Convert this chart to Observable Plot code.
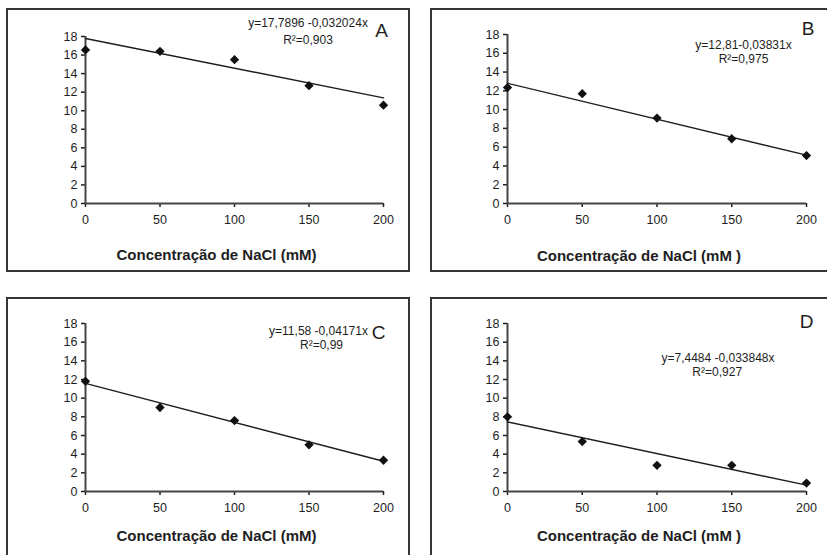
<!DOCTYPE html>
<html>
<head>
<meta charset="utf-8">
<script src="https://cdn.jsdelivr.net/npm/d3@7"></script>
<script src="https://cdn.jsdelivr.net/npm/@observablehq/plot@0.6"></script>
<style>
  html, body { margin: 0; padding: 0; background: #fff; }
  #root { position: relative; width: 827px; height: 555px; overflow: hidden; background: #fff; }
  .panel { position: absolute; }
  .panel svg { background: transparent !important; max-width: none !important; }
  .box { position: absolute; box-sizing: border-box; border: 2px solid #363636; pointer-events: none; }
</style>
</head>
<body>
<div id="root"></div>
<script>
// ---- data ----
const concentrations = [0, 50, 100, 150, 200];
const xTicks = [0, 50, 100, 150, 200];
const yTicks = [0, 2, 4, 6, 8, 10, 12, 14, 16, 18];
const valuesA = [16.55, 16.4, 15.5, 12.7, 10.6];
const valuesB = [12.35, 11.7, 9.1, 6.9, 5.1];
const valuesC = [11.8, 9.0, 7.6, 5.0, 3.35];
const valuesD = [8.0, 5.35, 2.8, 2.8, 0.9];
const intercepts = [17.7896, 12.81, 11.58, 7.4484];
const slopes = [-0.032024, -0.03831, -0.04171, -0.033848];
const equationLabels = ["y=17,7896 -0,032024x", "y=12,81-0,03831x", "y=11,58 -0,04171x", "y=7,4484 -0,033848x"];
const r2Labels = ["R\u00b2=0,903", "R\u00b2=0,975", "R\u00b2=0,99", "R\u00b2=0,927"];
const panelLetters = ["A", "B", "C", "D"];
const xAxisTitles = ["Concentração de NaCl (mM)", "Concentração de NaCl (mM )", "Concentração de NaCl (mM)", "Concentração de NaCl (mM )"];
const seriesValues = [valuesA, valuesB, valuesC, valuesD];

// ---- layout (positions/styles only) ----
const layout = [
  {left: 0,   top: 0,   width: 420, height: 280, ml: 85, mr: 37, mt: 36, mb: 77,
   eq: [-75.5, -13.5], r2: [-75.5, 3.5], letter: [-2, -6], titleDy: 52,
   box: {left: 6, top: 8, width: 404, height: 264}},
  {left: 420, top: 0,   width: 407, height: 280, ml: 87, mr: 21, mt: 34, mb: 77,
   eq: [-63, 10.7], r2: [-63, 24.7], letter: [1.5, -5.3], titleDy: 53,
   box: {left: 430, top: 8, width: 410, height: 264}},
  {left: 0,   top: 280, width: 420, height: 275, ml: 85, mr: 37, mt: 43, mb: 64,
   eq: [-65, 8], r2: [-62, 21.5], letter: [-5, 9], titleDy: 45,
   box: {left: 6, top: 297, width: 404, height: 300}},
  {left: 420, top: 280, width: 407, height: 275, ml: 87, mr: 21, mt: 43, mb: 64,
   eq: [-88.5, 35], r2: [-89.3, 48.5], letter: [0, -1.7], titleDy: 44.5,
   box: {left: 430, top: 297, width: 410, height: 300}}
];

const root = document.getElementById("root");
const ink = "#1e1e1e";
const font = "'Liberation Sans', Arial, sans-serif";

layout.forEach((L, i) => {
  const pts = concentrations.map((x, k) => ({x, y: seriesValues[i][k]}));
  const xd = d3.extent(xTicks);
  const fit = xd.map(x => ({x, y: intercepts[i] + slopes[i] * x}));
  const chart = Plot.plot({
    width: L.width,
    height: L.height,
    marginLeft: L.ml, marginRight: L.mr, marginTop: L.mt, marginBottom: L.mb,
    style: {fontFamily: font, fontSize: "12.5px", color: ink, background: "transparent"},
    x: {domain: xd, ticks: xTicks},
    y: {domain: d3.extent(yTicks), ticks: yTicks},
    marks: [
      Plot.axisX({ticks: xTicks, tickSize: 4, tickPadding: 8, label: null, tickFormat: d => String(d), fontSize: 12.5, strokeWidth: 1.5}),
      Plot.axisY({ticks: yTicks, tickSize: 4, tickPadding: 4, label: null, tickFormat: d => String(d), fontSize: 12.5, strokeWidth: 1.5}),
      Plot.ruleY([0], {stroke: "#444", strokeWidth: 2}),
      Plot.ruleX([0], {stroke: "#444", strokeWidth: 2}),
      Plot.line(fit, {x: "x", y: "y", stroke: ink, strokeWidth: 1.4}),
      Plot.dot(pts, {x: "x", y: "y", symbol: "diamond2", r: 4.2, fill: "#111", stroke: "none"}),
      Plot.text([equationLabels[i]], {frameAnchor: "top-right", dx: L.eq[0], dy: L.eq[1], textAnchor: "middle", lineAnchor: "middle", fontSize: 12, fill: ink}),
      Plot.text([r2Labels[i]], {frameAnchor: "top-right", dx: L.r2[0], dy: L.r2[1], textAnchor: "middle", lineAnchor: "middle", fontSize: 12, fill: ink}),
      Plot.text([panelLetters[i]], {frameAnchor: "top-right", dx: L.letter[0], dy: L.letter[1], textAnchor: "middle", lineAnchor: "middle", fontSize: 19, fill: ink}),
      Plot.text([xAxisTitles[i]], {frameAnchor: "bottom", dx: -18, dy: L.titleDy, textAnchor: "middle", lineAnchor: "middle", fontSize: 15, fontWeight: "bold", fill: ink})
    ]
  });
  const wrap = document.createElement("div");
  wrap.className = "panel";
  wrap.style.left = L.left + "px";
  wrap.style.top = L.top + "px";
  wrap.style.width = L.width + "px";
  wrap.style.height = L.height + "px";
  wrap.appendChild(chart);
  root.appendChild(wrap);
});

layout.forEach(L => {
  const b = document.createElement("div");
  b.className = "box";
  b.style.left = L.box.left + "px";
  b.style.top = L.box.top + "px";
  b.style.width = L.box.width + "px";
  b.style.height = L.box.height + "px";
  root.appendChild(b);
});
</script>
</body>
</html>
